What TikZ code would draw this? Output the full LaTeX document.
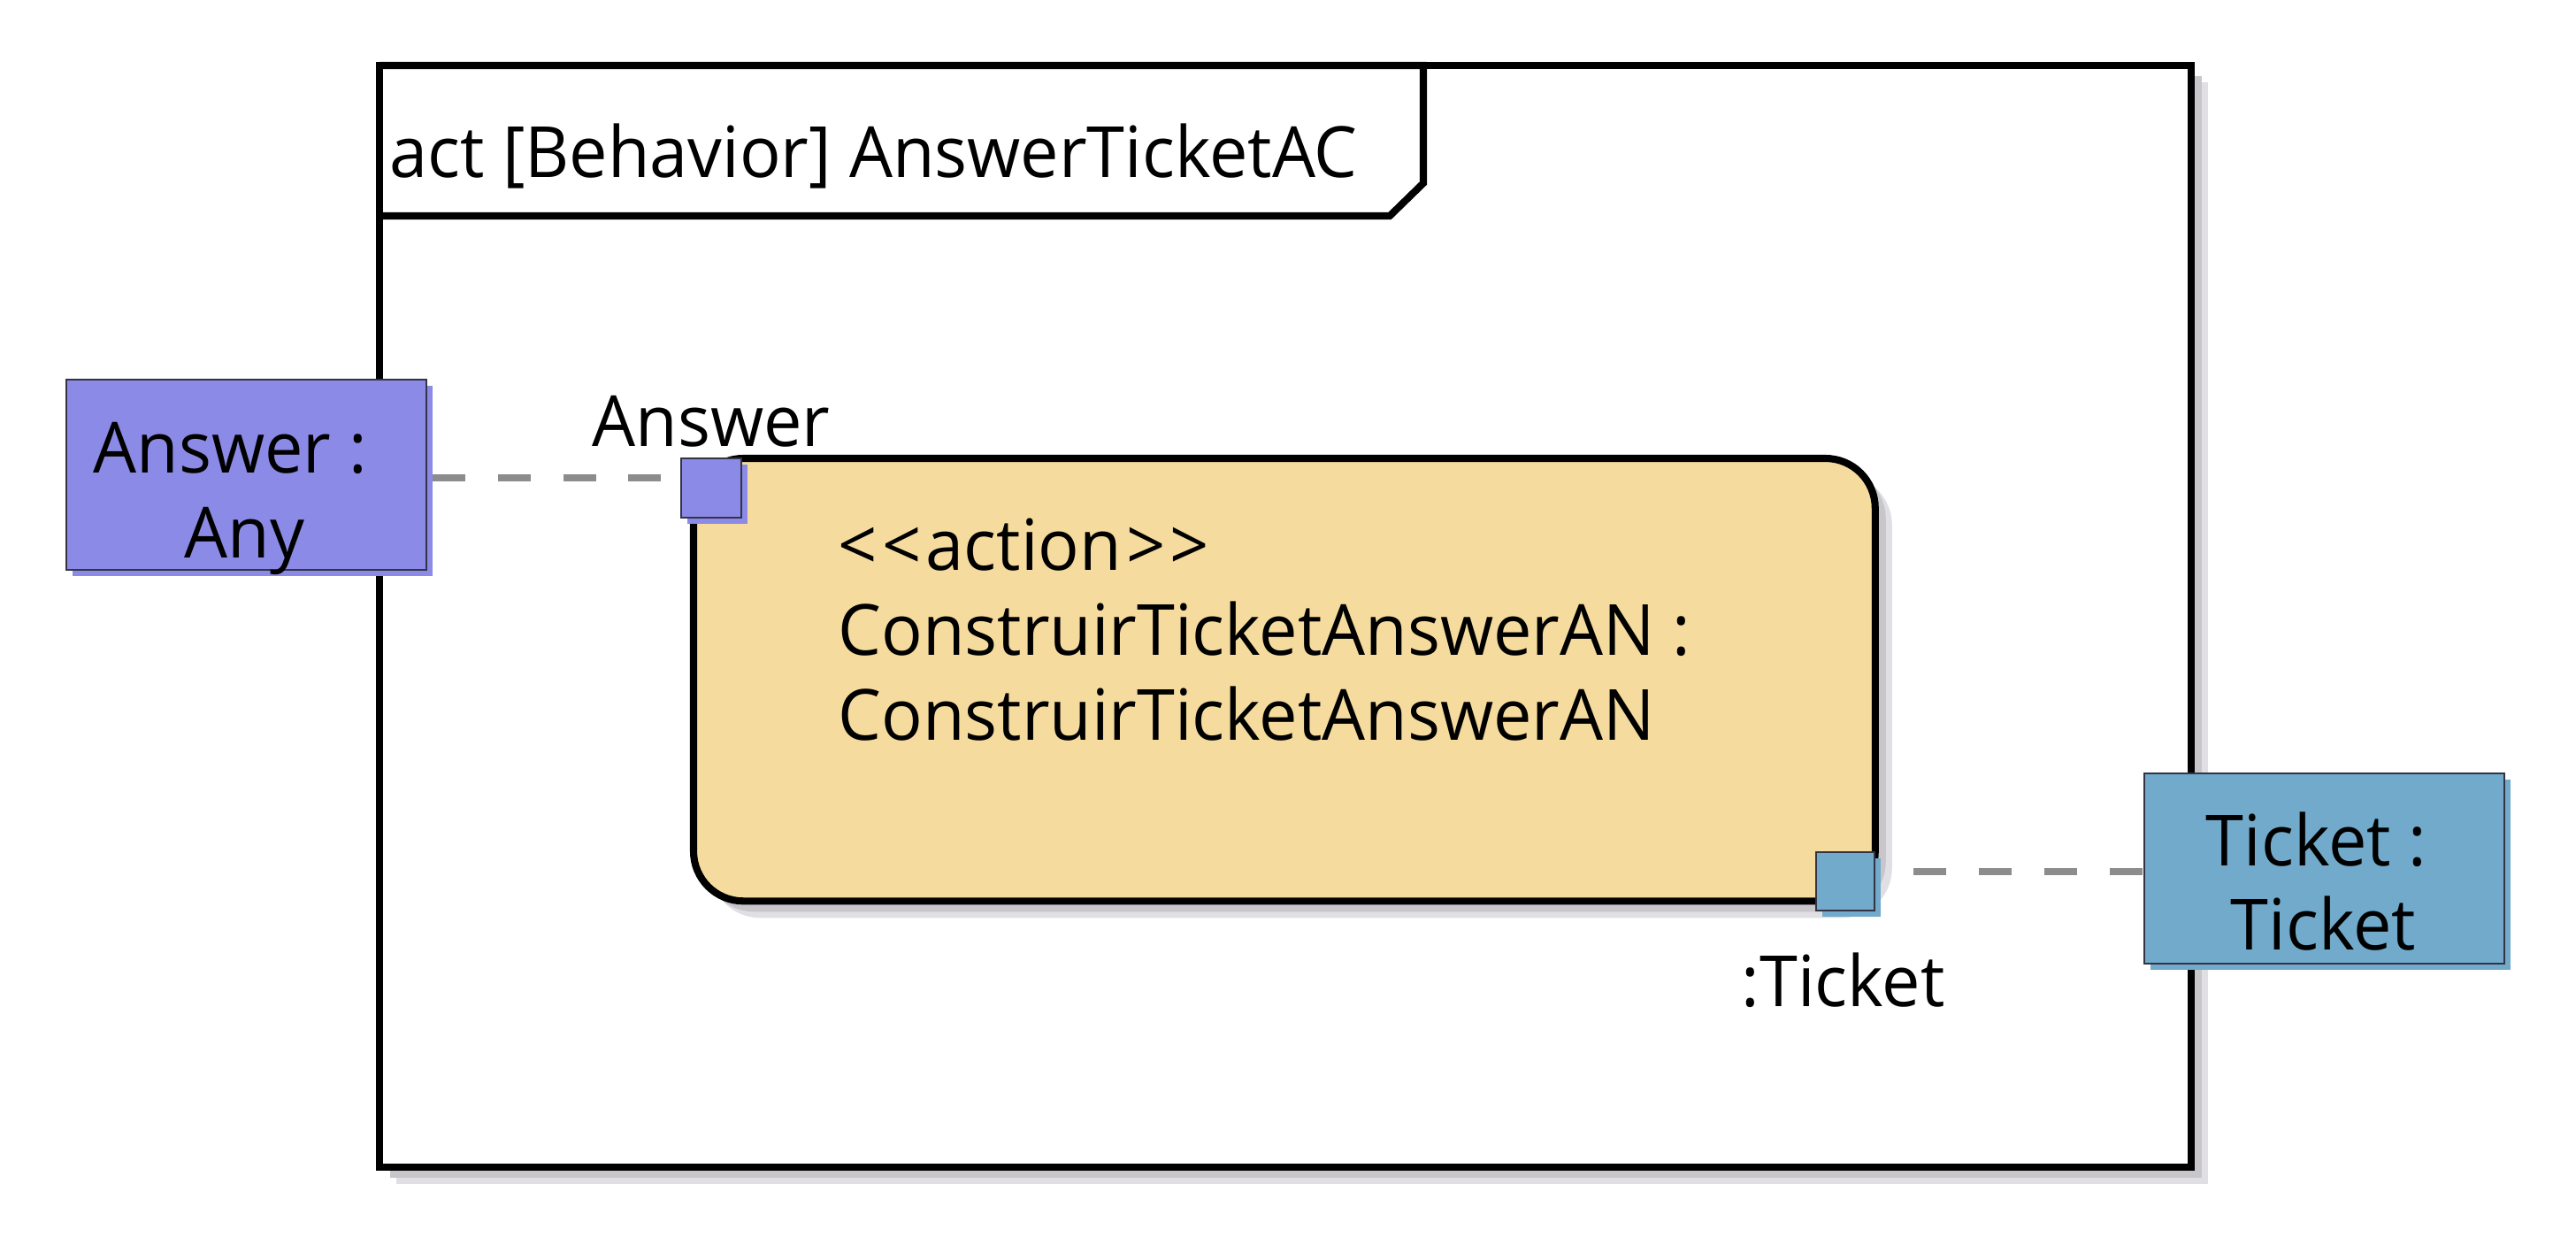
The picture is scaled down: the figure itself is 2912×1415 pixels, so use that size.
\documentclass[tikz,border=0pt]{standalone}
\usepackage{fontspec}
\setmainfont[FakeStretch=0.97]{Open Sans}
\usetikzlibrary{shadows}
\definecolor{boxpurple}{HTML}{8B8BE7}
\definecolor{boxblue}{HTML}{71AACB}
\definecolor{actfill}{HTML}{F5DB9D}
\definecolor{dashgray}{HTML}{8C8C8C}
\definecolor{shdark}{HTML}{C8C6CB}
\definecolor{shlight}{HTML}{E0DFE3}
\definecolor{pinborder}{HTML}{333344}
\begin{document}
\begin{tikzpicture}[x=0.01cm,y=-0.01cm,
  txt/.style={font=\fontsize{22.7}{27.3}\selectfont, inner sep=0pt, anchor=base west},
  twoshadow/.style={general shadow={fill=shlight, shadow xshift=5.4pt, shadow yshift=-5.4pt},
                    general shadow={fill=shdark, shadow xshift=3.4pt, shadow yshift=-3.4pt}},
  objbox/.style={draw=pinborder, line width=0.5pt, inner sep=0pt, outer sep=0pt, anchor=north west,
                 general shadow={fill=#1, shadow xshift=2pt, shadow yshift=-2pt}, fill=#1},
  connector/.style={draw=dashgray, line width=2.3pt, dash pattern=on 10.5pt off 10.5pt}
]
\useasboundingbox (0,0) rectangle (2912,1415);
% frame
\node (frame) [draw, line width=2.3pt, fill=white, twoshadow, inner sep=0pt, outer sep=0pt, anchor=north west,
  minimum width=20.47cm, minimum height=12.44cm] at (429,74) {};
\draw[line width=2.3pt, line join=miter] (429,74) -| (1609,207) -- (1571,244) -- (429,244);
\node (title) [txt] at (440,200) {act [Behavior] AnswerTicketAC};
% action
\node (action) [draw, line width=2.3pt, fill=actfill, twoshadow, rounded corners=16pt, inner sep=0pt, outer sep=0pt,
  anchor=north west, minimum width=13.35cm, minimum height=5.0cm] at (784,518) {};
\node (acttext) [txt, align=left] at (947,836) {<\kern1.5pt<\kern1.5pt action\kern1.5pt>\kern1.5pt>\\ConstruirTicketAnswerAN :\\ConstruirTicketAnswerAN};
% object boxes
\node (boxA) [objbox=boxpurple, minimum width=4.07cm, minimum height=2.15cm] at (75,429) {};
\node (boxAt1) [txt] at (105,534) {Answer :};
\node (boxAt2) [txt] at (208,630) {Any};
\node (boxT) [objbox=boxblue, minimum width=4.07cm, minimum height=2.15cm] at (2424,874) {};
\node (boxTt1) [txt] at (2493,978) {Ticket :};
\node (boxTt2) [txt] at (2521,1073) {Ticket};
% pins
\node (pinA) [objbox=boxpurple, minimum width=0.68cm, minimum height=0.67cm] at (770,518) {};
\node (pinT) [objbox=boxblue, minimum width=0.66cm, minimum height=0.66cm] at (2053,963) {};
\node (pinAlabel) [txt] at (669,504) {Answer};
\node (pinTlabel) [txt] at (1968,1137) {:Ticket};
% connectors
\draw[connector, dash phase=19.1pt] ([yshift=-1pt]boxA.east) -- ([yshift=-1pt]boxA.east -| pinA.west);
\draw[connector, dash phase=10.5pt] ([xshift=2pt,yshift=-1pt]pinT.east |- boxT.west) -- ([yshift=-1pt]boxT.west);
\end{tikzpicture}
\end{document}
